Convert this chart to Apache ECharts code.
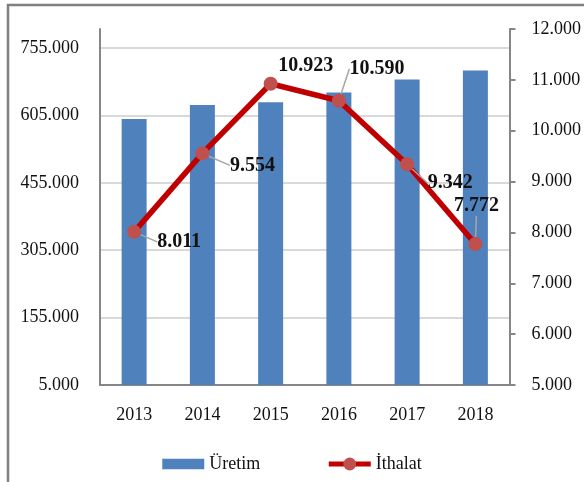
<!DOCTYPE html>
<html>
<head>
<meta charset="utf-8">
<script src="https://cdn.jsdelivr.net/npm/echarts@6/dist/echarts.min.js"></script>
<style>
    html, body { margin: 0; padding: 0; background: #fff; }
    #container { width: 584px; height: 482px; }
</style>
</head>
<body>
<div id="container"></div>
<script>
// yıllar
let years = ['2013', '2014', '2015', '2016', '2017', '2018'];
// Üretim (sol eksen)
let uretim = [597000, 628000, 634000, 656000, 685000, 705000];
// İthalat (sağ eksen)
let ithalat = [8011, 9554, 10923, 10590, 9342, 7772];

// etiketlerin kaydırma miktarı (nokta merkezine göre)
let labelShift = [
    [45, 10],
    [50, 12],
    [35, -18],
    [38, -32],
    [43, 19],
    [1, -38]
];
// 10.923 etiketinde kılavuz çizgi yok
let noLeader = [2];

let fontName = '"Liberation Serif", "Times New Roman", serif';

function fmt(v) {
    return String(Math.round(v)).replace(/\B(?=(\d{3})+(?!\d))/g, '.');
}

let dom = document.getElementById("container");
let myChart = echarts.init(dom);
let option = {
    animation: false,
    textStyle: {
        fontFamily: fontName
    },
    graphic: [
        {
            type: 'rect',
            shape: {x: 8, y: 5, width: 620, height: 520},
            style: {fill: 'none', stroke: '#808080', lineWidth: 2.5},
            silent: true
        }
    ],
    grid: {
        left: 100,
        right: 74,
        top: 29,
        bottom: 97
    },
    legend: {
        top: 450,
        left: 'center',
        itemGap: 66,
        itemWidth: 42,
        itemHeight: 16,
        textStyle: {
            color: '#111',
            fontSize: 18,
            fontFamily: fontName
        },
        data: [
            {name: 'Üretim', icon: 'path://M0,0 H40 V10 H0 Z'},
            {name: 'İthalat', lineStyle: {width: 5}}
        ]
    },
    xAxis: {
        type: 'category',
        data: years,
        axisLine: {lineStyle: {color: '#868686', width: 2}},
        axisTick: {show: false},
        axisLabel: {
            color: '#111',
            fontSize: 18,
            fontFamily: fontName,
            margin: 21
        }
    },
    yAxis: [
        {
            type: 'value',
            min: 5000,
            max: 797300,
            interval: 150000,
            position: 'left',
            axisLine: {show: true, lineStyle: {color: '#868686', width: 2}},
            axisTick: {show: false},
            axisLabel: {
                color: '#111',
                fontSize: 18,
                fontFamily: fontName,
                margin: 21,
                showMaxLabel: false,
                formatter: fmt
            },
            splitLine: {
                show: true,
                showMaxLine: false,
                lineStyle: {color: '#d9d9d9', width: 2}
            }
        },
        {
            type: 'value',
            min: 5000,
            max: 12000,
            interval: 1000,
            position: 'right',
            axisLine: {show: true, lineStyle: {color: '#868686', width: 2}},
            axisTick: {show: true, inside: false, length: 6, lineStyle: {color: '#868686', width: 2}},
            axisLabel: {
                color: '#111',
                fontSize: 18,
                fontFamily: fontName,
                margin: 22,
                formatter: fmt
            },
            splitLine: {show: false}
        }
    ],
    series: [
        {
            name: 'Üretim',
            type: 'bar',
            yAxisIndex: 0,
            barWidth: 25,
            itemStyle: {color: '#4f81bd'},
            data: uretim
        },
        {
            name: 'İthalat',
            type: 'line',
            yAxisIndex: 1,
            z: 5,
            symbol: 'circle',
            symbolSize: 14,
            lineStyle: {color: '#c00000', width: 5.5},
            itemStyle: {color: '#c0504d'},
            label: {
                show: true,
                position: 'inside',
                color: '#111',
                fontSize: 20,
                fontWeight: 'bold',
                fontFamily: fontName,
                formatter: function (p) {
                    return fmt(p.value);
                }
            },
            labelLine: {
                show: true,
                lineStyle: {color: '#a6a6a6', width: 1.5}
            },
            labelLayout: function (params) {
                let s = labelShift[params.dataIndex];
                return {dx: s[0], dy: s[1]};
            },
            data: ithalat.map(function (v, i) {
                if (noLeader.indexOf(i) >= 0) {
                    return {value: v, labelLine: {show: false}};
                }
                return v;
            })
        }
    ]
};
if (option && typeof option === "object") {
    myChart.setOption(option, true);
}
</script>
</body>
</html>
